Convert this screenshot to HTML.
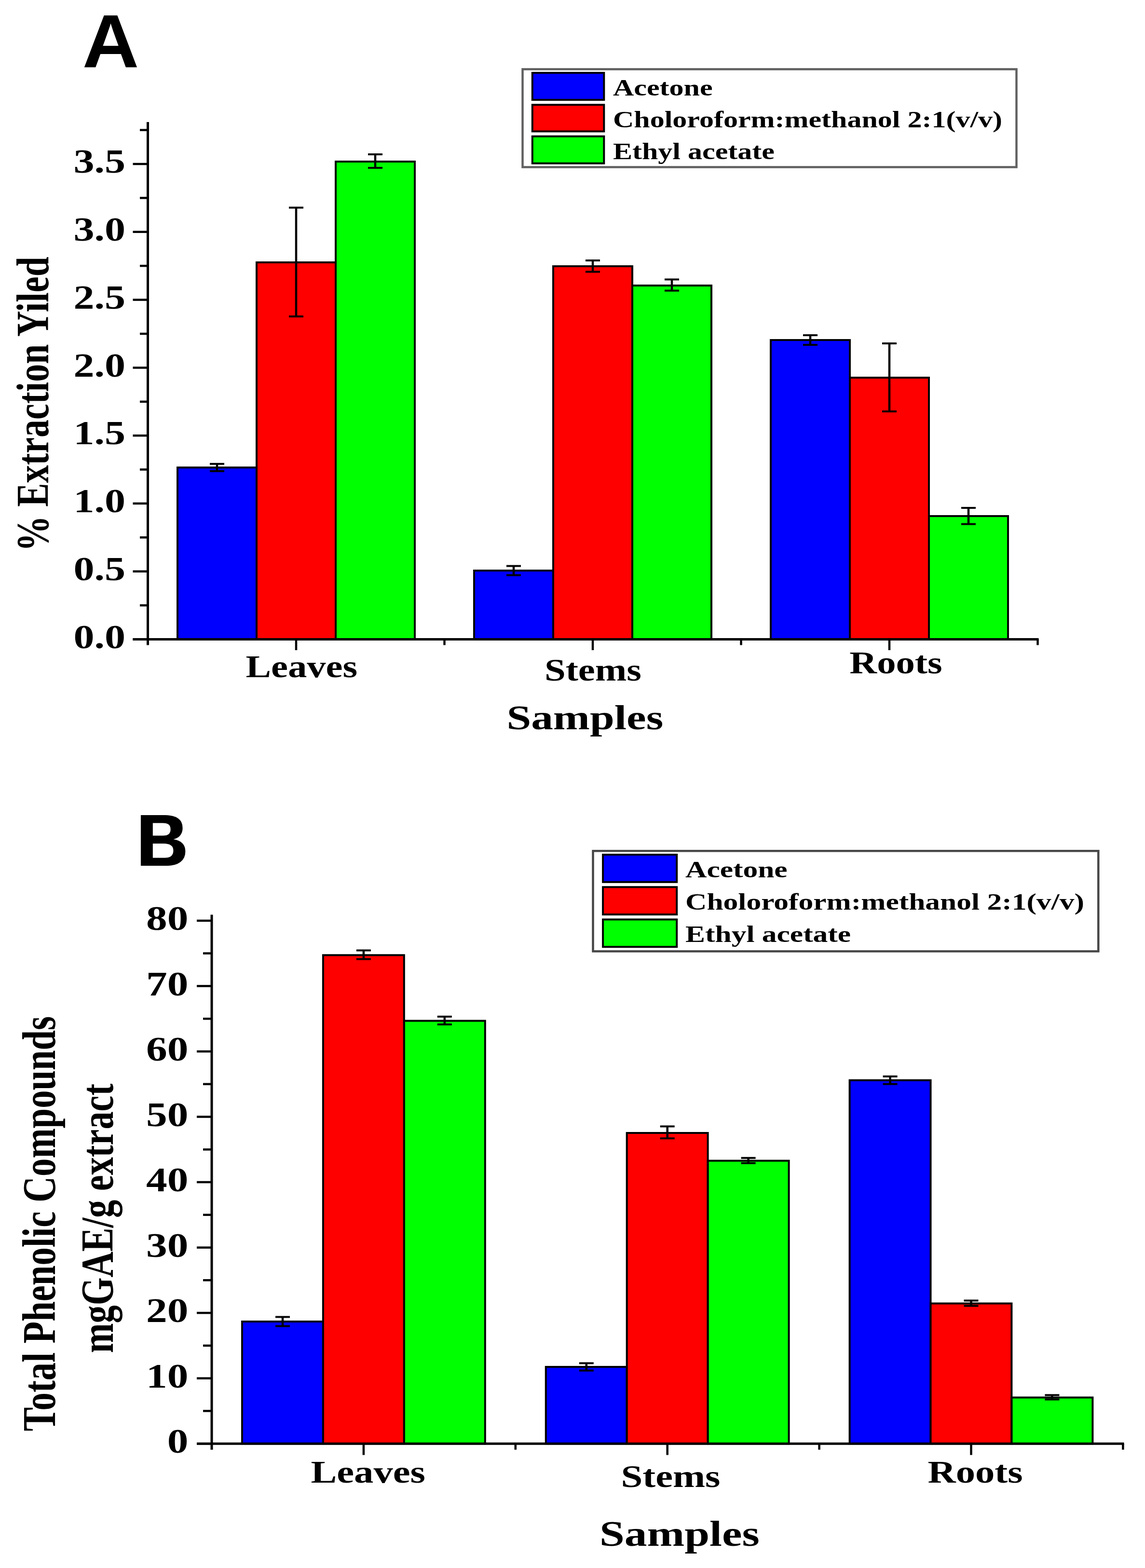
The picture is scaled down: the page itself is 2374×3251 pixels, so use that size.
<!DOCTYPE html>
<html><head><meta charset="utf-8"><title>Extraction yield and total phenolic compounds</title>
<style>html,body{margin:0;padding:0;background:#fff;}body{width:2374px;height:3251px;overflow:hidden;}svg{display:block;filter:blur(0.6px);}</style>
</head><body>
<svg width="2374" height="3251" viewBox="0 0 2374 3251">
<rect width="2374" height="3251" fill="#fff"/>
<rect x="368.0" y="969.3" width="164.0" height="356.2" fill="#0000ff" stroke="#000" stroke-width="4"/>
<rect x="532.0" y="544.0" width="164.0" height="781.5" fill="#ff0000" stroke="#000" stroke-width="4"/>
<rect x="696.0" y="335.0" width="164.0" height="990.5" fill="#00ff00" stroke="#000" stroke-width="4"/>
<rect x="983.0" y="1183.0" width="164.0" height="142.5" fill="#0000ff" stroke="#000" stroke-width="4"/>
<rect x="1147.0" y="552.0" width="164.0" height="773.5" fill="#ff0000" stroke="#000" stroke-width="4"/>
<rect x="1311.0" y="592.0" width="164.0" height="733.5" fill="#00ff00" stroke="#000" stroke-width="4"/>
<rect x="1598.0" y="705.0" width="164.0" height="620.5" fill="#0000ff" stroke="#000" stroke-width="4"/>
<rect x="1762.0" y="783.0" width="164.0" height="542.5" fill="#ff0000" stroke="#000" stroke-width="4"/>
<rect x="1926.0" y="1070.0" width="164.0" height="255.5" fill="#00ff00" stroke="#000" stroke-width="4"/>
<line x1="450.0" y1="961.8" x2="450.0" y2="976.8" stroke="#000" stroke-width="4.5"/>
<line x1="435.0" y1="961.8" x2="465.0" y2="961.8" stroke="#000" stroke-width="4"/>
<line x1="435.0" y1="976.8" x2="465.0" y2="976.8" stroke="#000" stroke-width="4"/>
<line x1="614.0" y1="430.5" x2="614.0" y2="656.1" stroke="#000" stroke-width="4.5"/>
<line x1="599.0" y1="430.5" x2="629.0" y2="430.5" stroke="#000" stroke-width="4"/>
<line x1="599.0" y1="656.1" x2="629.0" y2="656.1" stroke="#000" stroke-width="4"/>
<line x1="778.0" y1="320.0" x2="778.0" y2="348.0" stroke="#000" stroke-width="4.5"/>
<line x1="763.0" y1="320.0" x2="793.0" y2="320.0" stroke="#000" stroke-width="4"/>
<line x1="763.0" y1="348.0" x2="793.0" y2="348.0" stroke="#000" stroke-width="4"/>
<line x1="1065.0" y1="1173.5" x2="1065.0" y2="1192.5" stroke="#000" stroke-width="4.5"/>
<line x1="1050.0" y1="1173.5" x2="1080.0" y2="1173.5" stroke="#000" stroke-width="4"/>
<line x1="1050.0" y1="1192.5" x2="1080.0" y2="1192.5" stroke="#000" stroke-width="4"/>
<line x1="1229.0" y1="540.0" x2="1229.0" y2="563.5" stroke="#000" stroke-width="4.5"/>
<line x1="1214.0" y1="540.0" x2="1244.0" y2="540.0" stroke="#000" stroke-width="4"/>
<line x1="1214.0" y1="563.5" x2="1244.0" y2="563.5" stroke="#000" stroke-width="4"/>
<line x1="1393.0" y1="579.4" x2="1393.0" y2="602.6" stroke="#000" stroke-width="4.5"/>
<line x1="1378.0" y1="579.4" x2="1408.0" y2="579.4" stroke="#000" stroke-width="4"/>
<line x1="1378.0" y1="602.6" x2="1408.0" y2="602.6" stroke="#000" stroke-width="4"/>
<line x1="1680.0" y1="695.0" x2="1680.0" y2="715.0" stroke="#000" stroke-width="4.5"/>
<line x1="1665.0" y1="695.0" x2="1695.0" y2="695.0" stroke="#000" stroke-width="4"/>
<line x1="1665.0" y1="715.0" x2="1695.0" y2="715.0" stroke="#000" stroke-width="4"/>
<line x1="1844.0" y1="712.0" x2="1844.0" y2="853.0" stroke="#000" stroke-width="4.5"/>
<line x1="1829.0" y1="712.0" x2="1859.0" y2="712.0" stroke="#000" stroke-width="4"/>
<line x1="1829.0" y1="853.0" x2="1859.0" y2="853.0" stroke="#000" stroke-width="4"/>
<line x1="2008.0" y1="1053.0" x2="2008.0" y2="1086.6" stroke="#000" stroke-width="4.5"/>
<line x1="1993.0" y1="1053.0" x2="2023.0" y2="1053.0" stroke="#000" stroke-width="4"/>
<line x1="1993.0" y1="1086.6" x2="2023.0" y2="1086.6" stroke="#000" stroke-width="4"/>
<line x1="306.5" y1="253.0" x2="306.5" y2="1337.5" stroke="#000" stroke-width="5"/>
<line x1="275.5" y1="1325.5" x2="2153.5" y2="1325.5" stroke="#000" stroke-width="5"/>
<line x1="275.5" y1="1325.5" x2="306.5" y2="1325.5" stroke="#000" stroke-width="4.5"/>
<line x1="275.5" y1="1184.7" x2="306.5" y2="1184.7" stroke="#000" stroke-width="4.5"/>
<line x1="275.5" y1="1043.9" x2="306.5" y2="1043.9" stroke="#000" stroke-width="4.5"/>
<line x1="275.5" y1="903.1" x2="306.5" y2="903.1" stroke="#000" stroke-width="4.5"/>
<line x1="275.5" y1="762.4" x2="306.5" y2="762.4" stroke="#000" stroke-width="4.5"/>
<line x1="275.5" y1="621.6" x2="306.5" y2="621.6" stroke="#000" stroke-width="4.5"/>
<line x1="275.5" y1="480.8" x2="306.5" y2="480.8" stroke="#000" stroke-width="4.5"/>
<line x1="275.5" y1="340.0" x2="306.5" y2="340.0" stroke="#000" stroke-width="4.5"/>
<line x1="290.0" y1="1255.1" x2="306.5" y2="1255.1" stroke="#000" stroke-width="4.5"/>
<line x1="290.0" y1="1114.3" x2="306.5" y2="1114.3" stroke="#000" stroke-width="4.5"/>
<line x1="290.0" y1="973.5" x2="306.5" y2="973.5" stroke="#000" stroke-width="4.5"/>
<line x1="290.0" y1="832.8" x2="306.5" y2="832.8" stroke="#000" stroke-width="4.5"/>
<line x1="290.0" y1="692.0" x2="306.5" y2="692.0" stroke="#000" stroke-width="4.5"/>
<line x1="290.0" y1="551.2" x2="306.5" y2="551.2" stroke="#000" stroke-width="4.5"/>
<line x1="290.0" y1="410.4" x2="306.5" y2="410.4" stroke="#000" stroke-width="4.5"/>
<line x1="290.0" y1="269.6" x2="306.5" y2="269.6" stroke="#000" stroke-width="4.5"/>
<line x1="614.0" y1="1325.5" x2="614.0" y2="1348.0" stroke="#000" stroke-width="4.5"/>
<line x1="1229.0" y1="1325.5" x2="1229.0" y2="1348.0" stroke="#000" stroke-width="4.5"/>
<line x1="1844.0" y1="1325.5" x2="1844.0" y2="1348.0" stroke="#000" stroke-width="4.5"/>
<line x1="921.5" y1="1325.5" x2="921.5" y2="1337.5" stroke="#000" stroke-width="4.5"/>
<line x1="1536.5" y1="1325.5" x2="1536.5" y2="1337.5" stroke="#000" stroke-width="4.5"/>
<line x1="2151.5" y1="1325.5" x2="2151.5" y2="1337.5" stroke="#000" stroke-width="4.5"/>
<text transform="translate(260.0,1343.7) scale(1.238,1)" text-anchor="end" style="font-family:'Liberation Serif','Times New Roman',serif;font-weight:bold;font-size:69.5px">0.0</text>
<text transform="translate(260.0,1202.9) scale(1.238,1)" text-anchor="end" style="font-family:'Liberation Serif','Times New Roman',serif;font-weight:bold;font-size:69.5px">0.5</text>
<text transform="translate(260.0,1062.1) scale(1.238,1)" text-anchor="end" style="font-family:'Liberation Serif','Times New Roman',serif;font-weight:bold;font-size:69.5px">1.0</text>
<text transform="translate(260.0,921.3) scale(1.238,1)" text-anchor="end" style="font-family:'Liberation Serif','Times New Roman',serif;font-weight:bold;font-size:69.5px">1.5</text>
<text transform="translate(260.0,780.6) scale(1.238,1)" text-anchor="end" style="font-family:'Liberation Serif','Times New Roman',serif;font-weight:bold;font-size:69.5px">2.0</text>
<text transform="translate(260.0,639.8) scale(1.238,1)" text-anchor="end" style="font-family:'Liberation Serif','Times New Roman',serif;font-weight:bold;font-size:69.5px">2.5</text>
<text transform="translate(260.0,499.0) scale(1.238,1)" text-anchor="end" style="font-family:'Liberation Serif','Times New Roman',serif;font-weight:bold;font-size:69.5px">3.0</text>
<text transform="translate(260.0,358.2) scale(1.238,1)" text-anchor="end" style="font-family:'Liberation Serif','Times New Roman',serif;font-weight:bold;font-size:69.5px">3.5</text>
<text transform="translate(625.3,1404.4) scale(1.220,1)" text-anchor="middle" style="font-family:'Liberation Serif','Times New Roman',serif;font-weight:bold;font-size:64.5px">Leaves</text>
<text transform="translate(1229.4,1411.0) scale(1.220,1)" text-anchor="middle" style="font-family:'Liberation Serif','Times New Roman',serif;font-weight:bold;font-size:64.5px">Stems</text>
<text transform="translate(1857.5,1395.7) scale(1.220,1)" text-anchor="middle" style="font-family:'Liberation Serif','Times New Roman',serif;font-weight:bold;font-size:64.5px">Roots</text>
<text transform="translate(1212.8,1511.5) scale(1.260,1)" text-anchor="middle" style="font-family:'Liberation Serif','Times New Roman',serif;font-weight:bold;font-size:72.5px">Samples</text>
<rect x="1083.5" y="143.5" width="1024.0" height="203.0" fill="none" stroke="#606060" stroke-width="4.5"/>
<rect x="1103.8" y="151.0" width="148.5" height="56.0" fill="#0000ff" stroke="#000" stroke-width="4"/>
<rect x="1103.8" y="217.3" width="148.5" height="55.1" fill="#ff0000" stroke="#000" stroke-width="4"/>
<rect x="1103.8" y="282.7" width="148.5" height="56.0" fill="#00ff00" stroke="#000" stroke-width="4"/>
<text transform="translate(1271.0,198.1) scale(1.250,1)" text-anchor="start" style="font-family:'Liberation Serif','Times New Roman',serif;font-weight:bold;font-size:48px">Acetone</text>
<text transform="translate(1271.0,263.5) scale(1.250,1)" text-anchor="start" style="font-family:'Liberation Serif','Times New Roman',serif;font-weight:bold;font-size:48px">Choloroform:methanol 2:1(v/v)</text>
<text transform="translate(1271.0,329.6) scale(1.250,1)" text-anchor="start" style="font-family:'Liberation Serif','Times New Roman',serif;font-weight:bold;font-size:48px">Ethyl acetate</text>
<text transform="translate(100.0,1143.2) scale(1.285,1) rotate(-90)" text-anchor="start" style="font-family:'Liberation Serif','Times New Roman',serif;font-weight:bold;font-size:74px">% Extraction Yiled</text>
<text transform="translate(170.8,139.4) scale(1.050,1)" text-anchor="start" style="font-family:'Liberation Sans',Arial,sans-serif;font-weight:bold;font-size:155px">A</text>
<rect x="502.0" y="2740.0" width="167.9" height="253.2" fill="#0000ff" stroke="#000" stroke-width="4"/>
<rect x="669.9" y="1980.3" width="167.9" height="1012.9" fill="#ff0000" stroke="#000" stroke-width="4"/>
<rect x="837.9" y="2116.5" width="167.9" height="876.7" fill="#00ff00" stroke="#000" stroke-width="4"/>
<rect x="1131.8" y="2834.0" width="167.9" height="159.2" fill="#0000ff" stroke="#000" stroke-width="4"/>
<rect x="1299.7" y="2349.0" width="167.9" height="644.2" fill="#ff0000" stroke="#000" stroke-width="4"/>
<rect x="1467.7" y="2406.6" width="167.9" height="586.6" fill="#00ff00" stroke="#000" stroke-width="4"/>
<rect x="1761.6" y="2239.7" width="167.9" height="753.5" fill="#0000ff" stroke="#000" stroke-width="4"/>
<rect x="1929.5" y="2702.5" width="167.9" height="290.7" fill="#ff0000" stroke="#000" stroke-width="4"/>
<rect x="2097.5" y="2897.5" width="167.9" height="95.7" fill="#00ff00" stroke="#000" stroke-width="4"/>
<line x1="586.0" y1="2730.5" x2="586.0" y2="2749.5" stroke="#000" stroke-width="4.5"/>
<line x1="571.0" y1="2730.5" x2="601.0" y2="2730.5" stroke="#000" stroke-width="4"/>
<line x1="571.0" y1="2749.5" x2="601.0" y2="2749.5" stroke="#000" stroke-width="4"/>
<line x1="753.9" y1="1970.5" x2="753.9" y2="1988.5" stroke="#000" stroke-width="4.5"/>
<line x1="738.9" y1="1970.5" x2="768.9" y2="1970.5" stroke="#000" stroke-width="4"/>
<line x1="738.9" y1="1988.5" x2="768.9" y2="1988.5" stroke="#000" stroke-width="4"/>
<line x1="921.8" y1="2107.8" x2="921.8" y2="2124.0" stroke="#000" stroke-width="4.5"/>
<line x1="906.8" y1="2107.8" x2="936.8" y2="2107.8" stroke="#000" stroke-width="4"/>
<line x1="906.8" y1="2124.0" x2="936.8" y2="2124.0" stroke="#000" stroke-width="4"/>
<line x1="1215.8" y1="2826.4" x2="1215.8" y2="2841.6" stroke="#000" stroke-width="4.5"/>
<line x1="1200.8" y1="2826.4" x2="1230.8" y2="2826.4" stroke="#000" stroke-width="4"/>
<line x1="1200.8" y1="2841.6" x2="1230.8" y2="2841.6" stroke="#000" stroke-width="4"/>
<line x1="1383.7" y1="2335.4" x2="1383.7" y2="2360.2" stroke="#000" stroke-width="4.5"/>
<line x1="1368.7" y1="2335.4" x2="1398.7" y2="2335.4" stroke="#000" stroke-width="4"/>
<line x1="1368.7" y1="2360.2" x2="1398.7" y2="2360.2" stroke="#000" stroke-width="4"/>
<line x1="1551.6" y1="2400.8" x2="1551.6" y2="2411.6" stroke="#000" stroke-width="4.5"/>
<line x1="1536.6" y1="2400.8" x2="1566.6" y2="2400.8" stroke="#000" stroke-width="4"/>
<line x1="1536.6" y1="2411.6" x2="1566.6" y2="2411.6" stroke="#000" stroke-width="4"/>
<line x1="1845.6" y1="2231.8" x2="1845.6" y2="2247.6" stroke="#000" stroke-width="4.5"/>
<line x1="1830.6" y1="2231.8" x2="1860.6" y2="2231.8" stroke="#000" stroke-width="4"/>
<line x1="1830.6" y1="2247.6" x2="1860.6" y2="2247.6" stroke="#000" stroke-width="4"/>
<line x1="2013.5" y1="2696.5" x2="2013.5" y2="2707.5" stroke="#000" stroke-width="4.5"/>
<line x1="1998.5" y1="2696.5" x2="2028.5" y2="2696.5" stroke="#000" stroke-width="4"/>
<line x1="1998.5" y1="2707.5" x2="2028.5" y2="2707.5" stroke="#000" stroke-width="4"/>
<line x1="2181.4" y1="2892.5" x2="2181.4" y2="2901.5" stroke="#000" stroke-width="4.5"/>
<line x1="2166.4" y1="2892.5" x2="2196.4" y2="2892.5" stroke="#000" stroke-width="4"/>
<line x1="2166.4" y1="2901.5" x2="2196.4" y2="2901.5" stroke="#000" stroke-width="4"/>
<line x1="439.0" y1="1896.6" x2="439.0" y2="3005.7" stroke="#000" stroke-width="5"/>
<line x1="408.0" y1="2993.2" x2="2330.5" y2="2993.2" stroke="#000" stroke-width="5"/>
<line x1="408.0" y1="2993.2" x2="439.0" y2="2993.2" stroke="#000" stroke-width="4.5"/>
<line x1="408.0" y1="2857.7" x2="439.0" y2="2857.7" stroke="#000" stroke-width="4.5"/>
<line x1="408.0" y1="2722.1" x2="439.0" y2="2722.1" stroke="#000" stroke-width="4.5"/>
<line x1="408.0" y1="2586.6" x2="439.0" y2="2586.6" stroke="#000" stroke-width="4.5"/>
<line x1="408.0" y1="2451.0" x2="439.0" y2="2451.0" stroke="#000" stroke-width="4.5"/>
<line x1="408.0" y1="2315.5" x2="439.0" y2="2315.5" stroke="#000" stroke-width="4.5"/>
<line x1="408.0" y1="2180.0" x2="439.0" y2="2180.0" stroke="#000" stroke-width="4.5"/>
<line x1="408.0" y1="2044.4" x2="439.0" y2="2044.4" stroke="#000" stroke-width="4.5"/>
<line x1="408.0" y1="1908.9" x2="439.0" y2="1908.9" stroke="#000" stroke-width="4.5"/>
<line x1="421.0" y1="2925.4" x2="439.0" y2="2925.4" stroke="#000" stroke-width="4.5"/>
<line x1="421.0" y1="2789.9" x2="439.0" y2="2789.9" stroke="#000" stroke-width="4.5"/>
<line x1="421.0" y1="2654.3" x2="439.0" y2="2654.3" stroke="#000" stroke-width="4.5"/>
<line x1="421.0" y1="2518.8" x2="439.0" y2="2518.8" stroke="#000" stroke-width="4.5"/>
<line x1="421.0" y1="2383.3" x2="439.0" y2="2383.3" stroke="#000" stroke-width="4.5"/>
<line x1="421.0" y1="2247.7" x2="439.0" y2="2247.7" stroke="#000" stroke-width="4.5"/>
<line x1="421.0" y1="2112.2" x2="439.0" y2="2112.2" stroke="#000" stroke-width="4.5"/>
<line x1="421.0" y1="1976.6" x2="439.0" y2="1976.6" stroke="#000" stroke-width="4.5"/>
<line x1="753.9" y1="2993.2" x2="753.9" y2="3016.7" stroke="#000" stroke-width="4.5"/>
<line x1="1383.7" y1="2993.2" x2="1383.7" y2="3016.7" stroke="#000" stroke-width="4.5"/>
<line x1="2013.5" y1="2993.2" x2="2013.5" y2="3016.7" stroke="#000" stroke-width="4.5"/>
<line x1="1068.8" y1="2993.2" x2="1068.8" y2="3005.7" stroke="#000" stroke-width="4.5"/>
<line x1="1698.6" y1="2993.2" x2="1698.6" y2="3005.7" stroke="#000" stroke-width="4.5"/>
<line x1="2328.4" y1="2993.2" x2="2328.4" y2="3005.7" stroke="#000" stroke-width="4.5"/>
<text transform="translate(390.3,3012.4) scale(1.230,1)" text-anchor="end" style="font-family:'Liberation Serif','Times New Roman',serif;font-weight:bold;font-size:71px">0</text>
<text transform="translate(390.3,2876.9) scale(1.230,1)" text-anchor="end" style="font-family:'Liberation Serif','Times New Roman',serif;font-weight:bold;font-size:71px">10</text>
<text transform="translate(390.3,2741.3) scale(1.230,1)" text-anchor="end" style="font-family:'Liberation Serif','Times New Roman',serif;font-weight:bold;font-size:71px">20</text>
<text transform="translate(390.3,2605.8) scale(1.230,1)" text-anchor="end" style="font-family:'Liberation Serif','Times New Roman',serif;font-weight:bold;font-size:71px">30</text>
<text transform="translate(390.3,2470.2) scale(1.230,1)" text-anchor="end" style="font-family:'Liberation Serif','Times New Roman',serif;font-weight:bold;font-size:71px">40</text>
<text transform="translate(390.3,2334.7) scale(1.230,1)" text-anchor="end" style="font-family:'Liberation Serif','Times New Roman',serif;font-weight:bold;font-size:71px">50</text>
<text transform="translate(390.3,2199.2) scale(1.230,1)" text-anchor="end" style="font-family:'Liberation Serif','Times New Roman',serif;font-weight:bold;font-size:71px">60</text>
<text transform="translate(390.3,2063.6) scale(1.230,1)" text-anchor="end" style="font-family:'Liberation Serif','Times New Roman',serif;font-weight:bold;font-size:71px">70</text>
<text transform="translate(390.3,1928.1) scale(1.230,1)" text-anchor="end" style="font-family:'Liberation Serif','Times New Roman',serif;font-weight:bold;font-size:71px">80</text>
<text transform="translate(763.2,3074.0) scale(1.250,1)" text-anchor="middle" style="font-family:'Liberation Serif','Times New Roman',serif;font-weight:bold;font-size:64.5px">Leaves</text>
<text transform="translate(1390.5,3083.3) scale(1.250,1)" text-anchor="middle" style="font-family:'Liberation Serif','Times New Roman',serif;font-weight:bold;font-size:64.5px">Stems</text>
<text transform="translate(2022.0,3074.0) scale(1.250,1)" text-anchor="middle" style="font-family:'Liberation Serif','Times New Roman',serif;font-weight:bold;font-size:64.5px">Roots</text>
<text transform="translate(1408.8,3205.0) scale(1.256,1)" text-anchor="middle" style="font-family:'Liberation Serif','Times New Roman',serif;font-weight:bold;font-size:74.3px">Samples</text>
<rect x="1229.5" y="1764.3" width="1047.8000000000002" height="208.10000000000014" fill="none" stroke="#464646" stroke-width="4.5"/>
<rect x="1250.1" y="1772.0" width="153.1" height="56.8" fill="#0000ff" stroke="#000" stroke-width="4"/>
<rect x="1250.1" y="1839.2" width="153.1" height="56.8" fill="#ff0000" stroke="#000" stroke-width="4"/>
<rect x="1250.1" y="1906.4" width="153.1" height="56.8" fill="#00ff00" stroke="#000" stroke-width="4"/>
<text transform="translate(1421.0,1819.0) scale(1.255,1)" text-anchor="start" style="font-family:'Liberation Serif','Times New Roman',serif;font-weight:bold;font-size:49px">Acetone</text>
<text transform="translate(1421.0,1886.2) scale(1.255,1)" text-anchor="start" style="font-family:'Liberation Serif','Times New Roman',serif;font-weight:bold;font-size:49px">Choloroform:methanol 2:1(v/v)</text>
<text transform="translate(1421.0,1953.4) scale(1.255,1)" text-anchor="start" style="font-family:'Liberation Serif','Times New Roman',serif;font-weight:bold;font-size:49px">Ethyl acetate</text>
<text transform="translate(113.8,2967.4) scale(1.300,1) rotate(-90)" text-anchor="start" style="font-family:'Liberation Serif','Times New Roman',serif;font-weight:bold;font-size:74.7px">Total Phenolic Compounds</text>
<text transform="translate(234.0,2805.2) scale(1.280,1) rotate(-90)" text-anchor="start" style="font-family:'Liberation Serif','Times New Roman',serif;font-weight:bold;font-size:74.2px">mgGAE/g extract</text>
<text transform="translate(282.3,1795.0) scale(0.948,1)" text-anchor="start" style="font-family:'Liberation Sans',Arial,sans-serif;font-weight:bold;font-size:153px">B</text>
<text transform="translate(286.3,1795.0) scale(0.948,1)" text-anchor="start" style="font-family:'Liberation Sans',Arial,sans-serif;font-weight:bold;font-size:153px">B</text>
</svg>
</body></html>
